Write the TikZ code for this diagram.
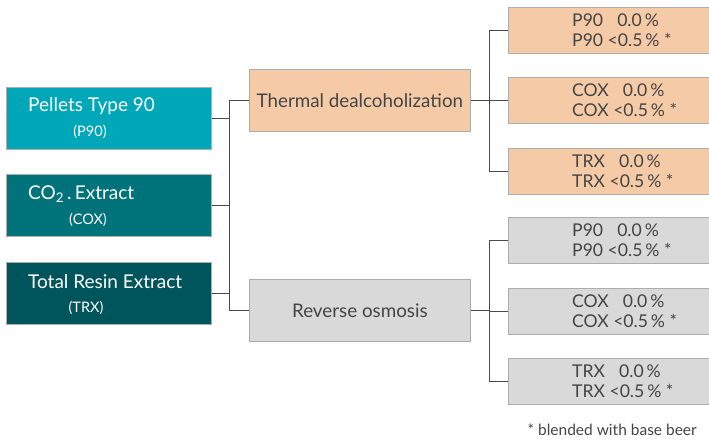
\documentclass[tikz,border=0pt]{standalone}
\usepackage{fontspec}
\setmainfont{Lato}
\definecolor{tealA}{HTML}{00A7B8}
\definecolor{tealB}{HTML}{00737A}
\definecolor{tealC}{HTML}{00555D}
\definecolor{peach}{HTML}{F5CBA7}
\definecolor{greybox}{HTML}{D9D9D9}
\definecolor{ink}{HTML}{454545}
\definecolor{wire}{HTML}{4A4A4A}
\tikzset{
  box/.style={draw=black!32, line width=0.8pt, anchor=north west, inner sep=0pt},
  srcbox/.style={box, minimum width=205pt, minimum height=62pt},
  procbox/.style={box, minimum width=221pt, minimum height=62pt, text=ink, font=\fontsize{18.8}{22}\selectfont},
  resbox/.style={box, minimum width=201pt, minimum height=46pt},
  reslabel/.style={anchor=west, align=left, text=ink, font=\fontsize{17.6}{20}\selectfont, inner sep=0pt},
  srctitle/.style={anchor=west, text=white, font=\fontsize{19}{22}\selectfont, inner sep=0pt},
  srcsub/.style={anchor=center, text=white, font=\fontsize{14.5}{16}\selectfont, inner sep=0pt},
  wireline/.style={draw=wire, line width=1pt},
}
\newcommand{\resline}[1]{#1\hspace{0.8em}0.0\,\%\\#1 <0.5\,\% *}
\begin{document}
\begin{tikzpicture}[x=1pt, y=-1pt]
  \useasboundingbox (0,0) rectangle (709,439);

  % source products
  \node[srcbox, fill=tealA] (p90) at (6,87) {};
  \node[srcbox, fill=tealB] (cox) at (6,174) {};
  \node[srcbox, fill=tealC] (trx) at (6,262) {};
  \node[srctitle] (p90t) at (28,106) {Pellets Type 90};
  \node[srcsub] (p90s) at (90,132) {(P90)};
  \node[srctitle] (coxt) at (28,194) {CO\textsubscript{2}\,.\,Extract};
  \node[srcsub] (coxs) at (88,220) {(COX)};
  \node[srctitle] (trxt) at (28,282) {Total Resin Extract};
  \node[srcsub] (trxs) at (86,308) {(TRX)};

  % processes
  \node[procbox, fill=peach] (therm) at (249,69) {Thermal dealcoholization};
  \node[procbox, fill=greybox] (rev) at (249,279) {Reverse osmosis};

  % results, thermal
  \node[resbox, fill=peach] (t1) at (508,7) {};
  \node[resbox, fill=peach] (t2) at (508,77) {};
  \node[resbox, fill=peach] (t3) at (508,148) {};
  % results, reverse osmosis
  \node[resbox, fill=greybox] (r1) at (508,217) {};
  \node[resbox, fill=greybox] (r2) at (508,288) {};
  \node[resbox, fill=greybox] (r3) at (508,358) {};

  \node[reslabel] (t1l) at (572,30) {\resline{P90}};
  \node[reslabel] (t2l) at (572,100) {\resline{COX}};
  \node[reslabel] (t3l) at (572,171) {\resline{TRX}};
  \node[reslabel] (r1l) at (572,240) {\resline{P90}};
  \node[reslabel] (r2l) at (572,311) {\resline{COX}};
  \node[reslabel] (r3l) at (572,381) {\resline{TRX}};

  \node[anchor=east, text=ink, font=\fontsize{15.5}{17}\selectfont, inner sep=0pt] (note) at (697,430) {* blended with base beer};

  % left bus
  \coordinate (busL) at (229,0);
  \draw[wireline] (p90.east) -- (p90.east -| busL);
  \draw[wireline] (cox.east) -- (cox.east -| busL);
  \draw[wireline] (trx.east) -- (trx.east -| busL);
  \draw[wireline] (therm.west -| busL) -- (rev.west -| busL);
  \draw[wireline] (therm.west -| busL) -- (therm.west);
  \draw[wireline] (rev.west -| busL) -- (rev.west);

  % right buses
  \coordinate (busR) at (489,0);
  \draw[wireline] (therm.east) -- (therm.east -| busR);
  \draw[wireline] (t1.west -| busR) -- (t3.west -| busR);
  \foreach \n in {t1,t2,t3} \draw[wireline] (\n.west -| busR) -- (\n.west);
  \draw[wireline] (rev.east) -- (rev.east -| busR);
  \draw[wireline] (r1.west -| busR) -- (r3.west -| busR);
  \foreach \n in {r1,r2,r3} \draw[wireline] (\n.west -| busR) -- (\n.west);
\end{tikzpicture}
\end{document}
